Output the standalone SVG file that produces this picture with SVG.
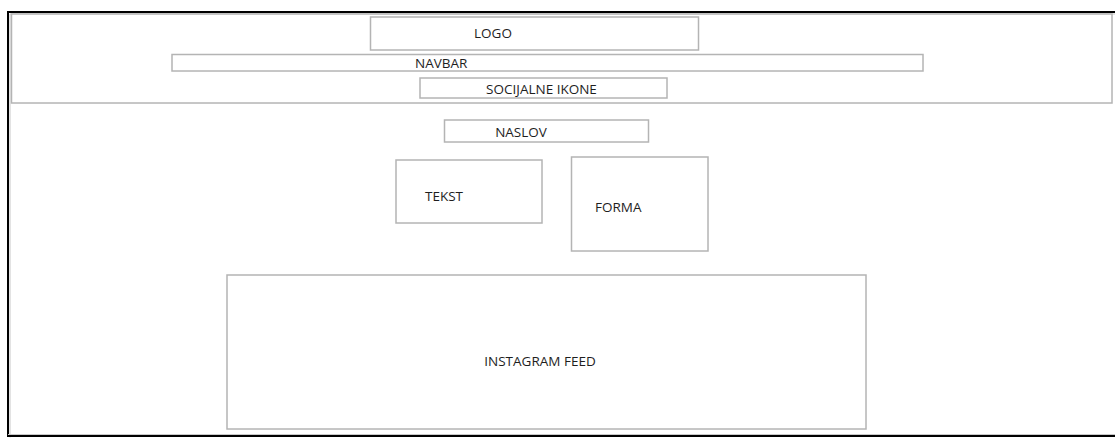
<svg xmlns="http://www.w3.org/2000/svg" width="1115" height="446" viewBox="0 0 1115 446">
<style>
.box{fill:#fff;stroke:#b4b4b4;stroke-width:1.5}
.lbl{font-family:"Open Sans","Liberation Sans",sans-serif;font-size:13.5px;fill:#1e1e1e}
</style>
<rect width="1115" height="446" fill="#fff"/>
<g id="frame">
<path d="M8.5 436 V12.5 H1115" fill="none" stroke="#c8c8c8" stroke-width="1" transform="translate(1.5,1.5)"/>
<path d="M8 436 V12 H1115" fill="none" stroke="#000" stroke-width="2"/>
<path d="M8 434.5 H1115" fill="none" stroke="#c8c8c8" stroke-width="1"/>
<path d="M7 436 H1115" fill="none" stroke="#000" stroke-width="2"/>
</g>
<g id="header"><rect class="box" x="11.5" y="14" width="1100.5" height="89"/></g>
<g id="logo"><rect class="box" x="370.5" y="17" width="328" height="33"/><text class="lbl" x="493" y="37.5" text-anchor="middle">LOGO</text></g>
<g id="navbar"><rect class="box" x="172" y="54.5" width="751" height="16.5"/><text class="lbl" x="415" y="68">NAVBAR</text></g>
<g id="socijalne"><rect class="box" x="420" y="78" width="247" height="20"/><text class="lbl" x="541.5" y="94" text-anchor="middle">SOCIJALNE IKONE</text></g>
<g id="naslov"><rect class="box" x="444.5" y="120" width="204" height="22"/><text class="lbl" x="521" y="137" text-anchor="middle">NASLOV</text></g>
<g id="tekst"><rect class="box" x="396" y="160" width="146" height="63"/><text class="lbl" x="425" y="201">TEKST</text></g>
<g id="forma"><rect class="box" x="571.5" y="157" width="136.5" height="94"/><text class="lbl" x="595" y="212">FORMA</text></g>
<g id="instagram"><rect class="box" x="227" y="275" width="639" height="154"/><text class="lbl" x="540" y="366" text-anchor="middle">INSTAGRAM FEED</text></g>
<g id="connectors"/>
</svg>
